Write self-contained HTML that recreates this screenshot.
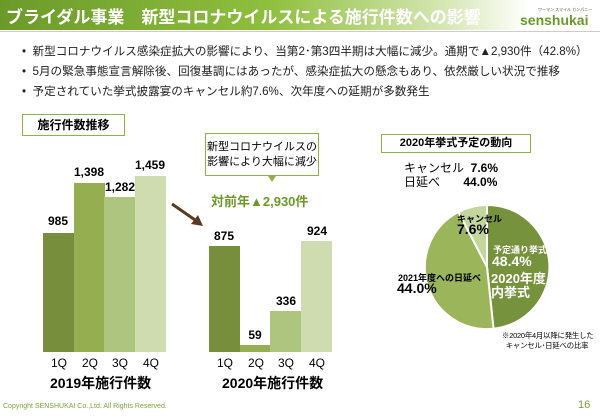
<!DOCTYPE html><html><head><meta charset="utf-8"><style>
body{margin:0;width:600px;height:416px;position:relative;background:#fff;font-family:"Liberation Sans","Noto Sans CJK JP",sans-serif;overflow:hidden}
.a{position:absolute;white-space:nowrap}
.hdr{position:absolute;left:0;top:0;width:600px;height:30px;background:linear-gradient(90deg,#6b9a2a 0%,#8fbf3e 45%,#d8e8b8 75%,#fff 88%)}
.bar{position:absolute}
.v{position:absolute;font-weight:bold;font-size:12px;text-align:center;width:40px}
.q{position:absolute;font-size:12px;text-align:center;width:30px;top:356px}
</style></head><body>
<div class="hdr"></div>
<div class="a" style="left:6px;top:3px;color:#fff;font-size:17px;font-weight:bold">ブライダル事業　新型コロナウイルスによる施行件数への影響</div>
<div class="a" style="left:538px;top:7px;font-size:4px;color:#555">ワーマン スマイル カンパニー</div>
<div class="a" style="left:520px;top:12px;font-size:14px;color:#6b9a2a;font-weight:bold">senshukai</div>
<div style="position:absolute;left:0;top:31px;width:600px;height:1px;background:#ccc"></div>
<div class="a" style="left:22px;top:42px;font-size:11.6px;line-height:20px;color:#222">
• &nbsp;新型コロナウイルス感染症拡大の影響により、当第2･第3四半期は大幅に減少。通期で▲2,930件（42.8%）<br>
• &nbsp;5月の緊急事態宣言解除後、回復基調にはあったが、感染症拡大の懸念もあり、依然厳しい状況で推移<br>
• &nbsp;予定されていた挙式披露宴のキャンセル約7.6%、次年度への延期が多数発生</div>
<div class="a" style="left:22px;top:114px;width:101px;height:20px;border:1px solid #8db34a;font-size:12px;font-weight:bold;text-align:center;line-height:20px">施行件数推移</div>
<div class="bar" style="left:43px;top:233px;width:31px;height:119px;background:#778f3d"></div>
<div class="bar" style="left:74px;top:183px;width:31px;height:169px;background:#94ae50"></div>
<div class="bar" style="left:104px;top:197px;width:31px;height:155px;background:#adc57f"></div>
<div class="bar" style="left:135px;top:176px;width:31px;height:176px;background:#cedcb0"></div>
<div class="v" style="left:38px;top:214px">985</div><div class="v" style="left:69px;top:165px">1,398</div><div class="v" style="left:100px;top:180px">1,282</div><div class="v" style="left:130px;top:158px">1,459</div>
<div class="q" style="left:44px">1Q</div><div class="q" style="left:75px">2Q</div><div class="q" style="left:105px">3Q</div><div class="q" style="left:136px">4Q</div>
<div class="a" style="left:50px;top:373px;font-size:14px;font-weight:bold">2019年施行件数</div>
<div class="bar" style="left:209px;top:246px;width:31px;height:106px;background:#778f3d"></div>
<div class="bar" style="left:240px;top:345px;width:31px;height:7px;background:#94ae50"></div>
<div class="bar" style="left:270px;top:311px;width:31px;height:41px;background:#adc57f"></div>
<div class="bar" style="left:301px;top:241px;width:31px;height:111px;background:#cedcb0"></div>
<div class="v" style="left:204px;top:229px">875</div><div class="v" style="left:235px;top:328px">59</div><div class="v" style="left:266px;top:294px">336</div><div class="v" style="left:297px;top:224px">924</div>
<div class="q" style="left:210px">1Q</div><div class="q" style="left:241px">2Q</div><div class="q" style="left:271px">3Q</div><div class="q" style="left:302px">4Q</div>
<div class="a" style="left:222px;top:373px;font-size:14px;font-weight:bold">2020年施行件数</div>
<div class="a" style="left:205px;top:133px;width:114px;height:43px;border:1.5px solid #8db34a;font-size:11px;text-align:center;line-height:15px;padding-top:6px;box-sizing:border-box;background:#fff">新型コロナウイルスの<br>影響により大幅に減少</div>
<svg class="a" style="left:0;top:0" width="600" height="416">
<polygon points="268,176 276,176 272,182" fill="#8db34a"/>
<line x1="172" y1="204" x2="198" y2="222" stroke="#5a3a22" stroke-width="3"/>
<polygon points="203,226 191,224 198,215" fill="#5a3a22"/>
<path d="M487,267 L487,205 A62,62 0 0 1 493.5,328.7 Z" fill="#76923c" stroke="#fff" stroke-width="2"/>
<path d="M487,267 L493.5,328.7 A62,62 0 0 1 458.4,212.0 Z" fill="#9bb55a" stroke="#fff" stroke-width="2"/>
<path d="M487,267 L458.4,212.0 A62,62 0 0 1 487,205 Z" fill="#c3d69b" stroke="#fff" stroke-width="2"/>
</svg>
<div class="a" style="left:211px;top:191px;font-size:13px;font-weight:bold;color:#6b9a2a">対前年▲2,930件</div>
<div class="a" style="left:381px;top:134px;width:148px;height:17px;border:1px solid #8db34a;font-size:11px;font-weight:bold;text-align:center;line-height:17px">2020年挙式予定の動向</div>
<div class="a" style="left:404px;top:161px;font-size:12px;line-height:14px">キャンセル&nbsp;&nbsp;<b>7.6%</b><br>日延べ&nbsp;&nbsp;&nbsp;&nbsp;&nbsp;&nbsp;&nbsp;<b>44.0%</b></div>
<div class="a" style="left:457px;top:212px;font-size:9px;font-weight:bold">キャンセル</div>
<div class="a" style="left:457px;top:221px;font-size:14px;font-weight:bold">7.6%</div>
<div class="a" style="left:493px;top:243px;font-size:9px;font-weight:bold;color:#fff">予定通り挙式</div>
<div class="a" style="left:492px;top:253px;font-size:14px;font-weight:bold;color:#fff">48.4%</div>
<div class="a" style="left:491px;top:272px;font-size:13px;font-weight:bold;color:#fff;line-height:14px">2020年度<br>内挙式</div>
<div class="a" style="left:398px;top:271px;font-size:9px;font-weight:bold">2021年度への日延べ</div>
<div class="a" style="left:397px;top:280px;font-size:14px;font-weight:bold">44.0%</div>
<div class="a" style="left:502px;top:331px;font-size:7.4px;line-height:10px;letter-spacing:-0.2px">※2020年4月以降に発生した<br>&nbsp;&nbsp;キャンセル･日延べの比率</div>
<div class="a" style="left:3px;top:403px;font-size:7px;color:#7aa33a">Copyright SENSHUKAI Co.,Ltd. All Rights Reserved.</div>
<div class="a" style="left:578px;top:399px;font-size:11px;color:#7aa33a">16</div>
</body></html>
